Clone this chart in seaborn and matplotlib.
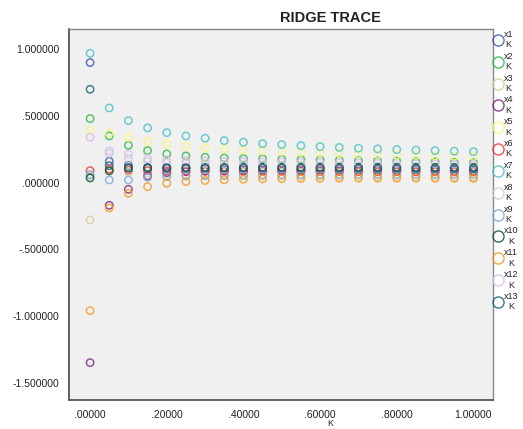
import numpy as np
import pandas as pd
import matplotlib
matplotlib.use("Agg")
import matplotlib.pyplot as plt
import seaborn as sns
from matplotlib.lines import Line2D
from matplotlib.ticker import FuncFormatter

# ridge constant K
k_values = [0.00, 0.05, 0.10, 0.15, 0.20, 0.25, 0.30, 0.35, 0.40, 0.45, 0.50,
            0.55, 0.60, 0.65, 0.70, 0.75, 0.80, 0.85, 0.90, 0.95, 1.00]

# standardized coefficients
x1 = [0.90, 0.16, 0.13, 0.11, 0.105, 0.103, 0.102, 0.101, 0.100, 0.100, 0.100,
      0.099, 0.099, 0.098, 0.098, 0.097, 0.097, 0.096, 0.096, 0.095, 0.095]
x2 = [0.48, 0.35, 0.28, 0.24, 0.215, 0.200, 0.190, 0.185, 0.180, 0.178, 0.175,
      0.172, 0.170, 0.167, 0.165, 0.162, 0.160, 0.157, 0.155, 0.152, 0.150]
x3 = [-0.28, 0.10, 0.08, 0.07, 0.060, 0.056, 0.053, 0.051, 0.050, 0.050, 0.049,
      0.048, 0.047, 0.046, 0.045, 0.044, 0.043, 0.042, 0.041, 0.041, 0.040]
x4 = [-1.35, -0.17, -0.05, 0.05, 0.075, 0.082, 0.086, 0.088, 0.089, 0.090, 0.090,
      0.090, 0.089, 0.089, 0.088, 0.088, 0.087, 0.087, 0.086, 0.086, 0.085]
x5 = [0.39, 0.37, 0.34, 0.31, 0.290, 0.273, 0.262, 0.252, 0.244, 0.237, 0.232,
      0.227, 0.222, 0.218, 0.214, 0.210, 0.206, 0.203, 0.200, 0.197, 0.195]
x6 = [0.09, 0.10, 0.095, 0.09, 0.088, 0.087, 0.086, 0.085, 0.085, 0.085, 0.085,
      0.084, 0.084, 0.083, 0.083, 0.082, 0.082, 0.081, 0.081, 0.080, 0.080]
x7 = [0.97, 0.56, 0.465, 0.41, 0.375, 0.350, 0.333, 0.315, 0.303, 0.292, 0.285,
      0.277, 0.270, 0.264, 0.258, 0.253, 0.248, 0.244, 0.240, 0.236, 0.232]
x8 = [0.05, 0.22, 0.18, 0.16, 0.150, 0.145, 0.140, 0.137, 0.135, 0.133, 0.131,
      0.129, 0.127, 0.125, 0.123, 0.121, 0.119, 0.117, 0.115, 0.113, 0.110]
x9 = [0.06, 0.02, 0.02, 0.04, 0.045, 0.050, 0.053, 0.055, 0.057, 0.058, 0.060,
      0.060, 0.061, 0.061, 0.061, 0.061, 0.061, 0.060, 0.060, 0.060, 0.060]
x10 = [0.035, 0.088, 0.112, 0.112, 0.113, 0.114, 0.115, 0.115, 0.115, 0.115, 0.115,
       0.115, 0.115, 0.115, 0.115, 0.115, 0.115, 0.115, 0.115, 0.115, 0.115]
x11 = [-0.96, -0.19, -0.08, -0.03, -0.005, 0.008, 0.016, 0.021, 0.025, 0.028, 0.030,
       0.031, 0.032, 0.033, 0.033, 0.033, 0.033, 0.033, 0.032, 0.032, 0.032]
x12 = [0.34, 0.238, 0.213, 0.18, 0.170, 0.165, 0.162, 0.160, 0.158, 0.156, 0.155,
       0.153, 0.151, 0.149, 0.147, 0.145, 0.143, 0.141, 0.139, 0.137, 0.135]
x13 = [0.70, 0.127, 0.11, 0.11, 0.110, 0.110, 0.110, 0.110, 0.110, 0.110, 0.110,
       0.109, 0.109, 0.108, 0.108, 0.107, 0.107, 0.106, 0.106, 0.105, 0.105]

series_names = ["x1", "x2", "x3", "x4", "x5", "x6", "x7",
                "x8", "x9", "x10", "x11", "x12", "x13"]
series_values = [x1, x2, x3, x4, x5, x6, x7, x8, x9, x10, x11, x12, x13]
colores = ["#3E58AC", "#2EB848", "#D3CE97", "#7C287D", "#FBF873", "#EF3338", "#48C2C5",
           "#CCCCCC", "#7AAAD5", "#0A562C", "#F8981D", "#DDBAF0", "#1A5F76"]

filas = []
for nombre, vals in zip(series_names, series_values):
    for k, v in zip(k_values, vals):
        filas.append({"K": k, "coef": v, "var": nombre})
datos = pd.DataFrame(filas)

sns.set_style("white")
plt.rcParams["font.family"] = ["Liberation Sans", "DejaVu Sans"]

fig = plt.figure(figsize=(5.23, 4.29), dpi=100)
ax = fig.add_axes([69 / 523, 1 - 400 / 429, (493 - 69) / 523, (400 - 29) / 429])
ax.set_facecolor("#F0F0F0")

sns.scatterplot(data=datos, x="K", y="coef", hue="var", palette=colores,
                hue_order=series_names, s=28, linewidth=1.1, alpha=0.8,
                legend=False, ax=ax)
coll = ax.collections[0]
coll.set_edgecolors(coll.get_facecolors())
coll.set_facecolors("none")

ax.set_xlim(-0.055, 1.051)
ax.set_ylim(-1.63, 1.152)
ax.set_xticks([0.0, 0.2, 0.4, 0.6, 0.8, 1.0])
ax.set_yticks([-1.5, -1.0, -0.5, 0.0, 0.5, 1.0])


def fmt_y(v, pos):
    s = f"{v:.6f}"
    return s.replace("0.", ".", 1) if abs(v) < 1 else s


def fmt_x(v, pos):
    s = f"{v:.5f}"
    return s.replace("0.", ".", 1) if abs(v) < 1 else s


ax.yaxis.set_major_formatter(FuncFormatter(fmt_y))
ax.xaxis.set_major_formatter(FuncFormatter(fmt_x))
ax.tick_params(axis="both", direction="out", length=5, width=1, color="#444444",
               labelsize=7.5, labelcolor="#222222", pad=2)
ax.set_xlabel("")
ax.set_ylabel("")
for lado in ["left", "bottom"]:
    ax.spines[lado].set_color("#555555")
    ax.spines[lado].set_linewidth(1.3)
for lado in ["top", "right"]:
    ax.spines[lado].set_color("#888888")
    ax.spines[lado].set_linewidth(1.0)

fig.text(330 / 523, 1 - 18 / 429, "RIDGE TRACE", fontsize=10.5, fontweight="bold",
         ha="center", va="center", color="#222222")
# axis title at the bottom edge
fig.text(330 / 523, 1 / 429, "K", fontsize=6.5, ha="center", va="bottom",
         color="#222222")

handles = [Line2D([], [], marker="o", linestyle="none", markersize=8,
                  markerfacecolor="none", markeredgecolor=c, markeredgewidth=1.0,
                  alpha=0.85) for c in colores]
etiquetas = [f"{n}\nK" for n in series_names]
leg = ax.legend(handles, etiquetas, loc="upper left", bbox_to_anchor=(1.0, 1.0),
                frameon=False, fontsize=6.5, handlelength=0.8, handletextpad=0.3,
                labelspacing=0.27, borderaxespad=0.1, borderpad=0.0)
for t in leg.get_texts():
    t.set_multialignment("center")
    t.set_color("#222222")

fig.savefig("out.png", dpi=100)
